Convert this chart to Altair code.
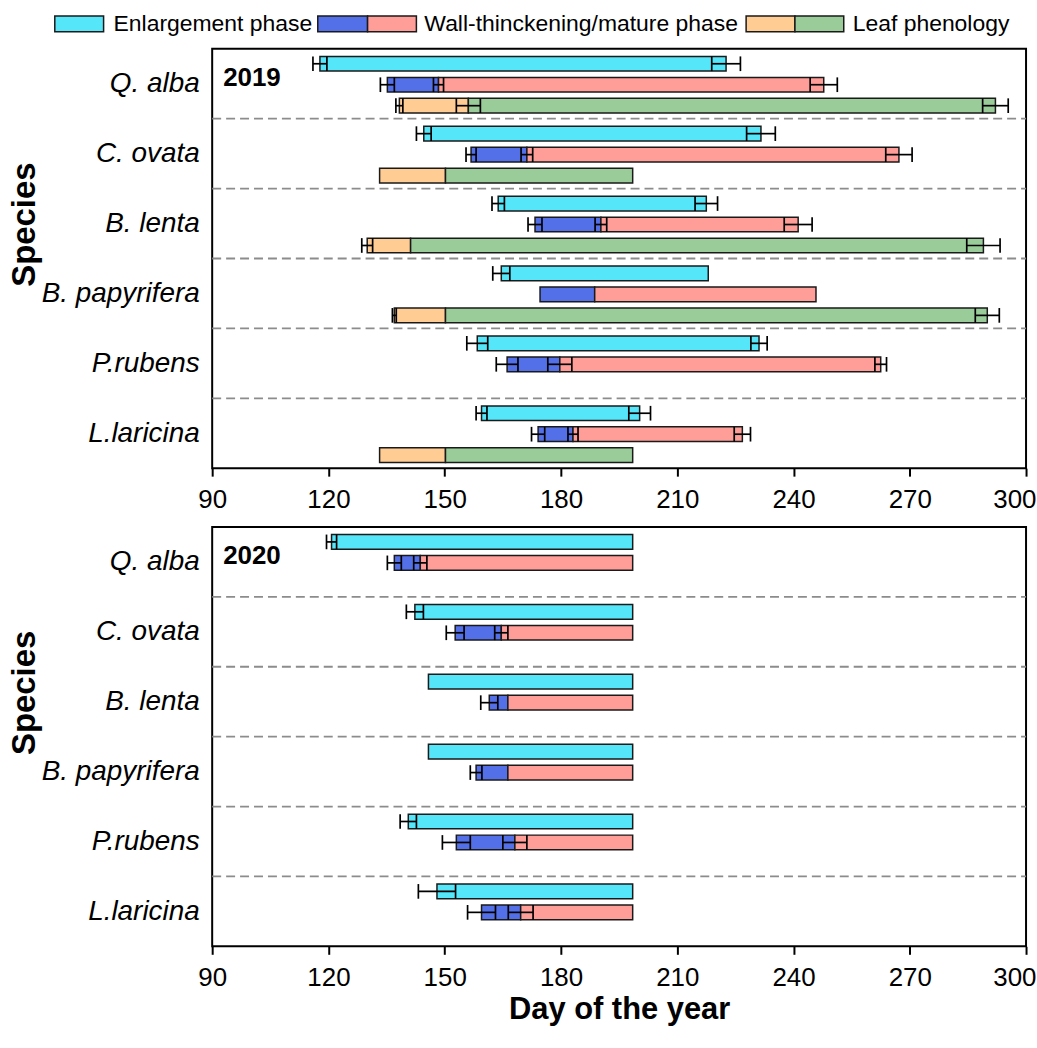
import json
import altair as alt
import pandas as pd

# ---------------- data ----------------
species = ["Q. alba", "C. ovata", "B. lenta", "B. papyrifera", "P.rubens", "L.laricina"]
phases = ["Enlargement", "Wall-thickening", "Mature", "Leaf emergence", "Leaf"]
phase_colors = ["#55E6FA", "#5470E9", "#FF9E99", "#FFCD94", "#99CC99"]
x_ticks = [90, 120, 150, 180, 210, 240, 270, 300]

# 2019 (day of year, and SD in days; 0 = no error bar)
enl19_on = [117.8, 144.6, 163.8, 164.6, 158.4, 159.5]
enl19_on_sd = [1.8, 1.9, 1.6, 2.2, 2.7, 1.4]
enl19_off = [222.6, 231.6, 217.5, 218.0, 231.1, 200.3]
enl19_off_sd = [3.7, 3.7, 2.9, 0.0, 2.1, 2.8]
wt19_on = [135.2, 156.8, 173.3, 174.6, 166.1, 174.1]
wt19_on_sd = [1.8, 1.3, 1.8, 0.0, 2.8, 1.7]
wt19_mid = [148.4, 171.2, 190.3, 188.7, 179.7, 183.1]
wt19_mid_sd = [1.3, 1.5, 1.5, 0.0, 3.1, 1.3]
wt19_off = [247.8, 267.2, 241.2, 245.8, 262.5, 226.8]
wt19_off_sd = [3.5, 3.4, 3.6, 0.0, 1.5, 2.1]
leaf19_on = [138.3, 133.2, 130.0, 137.0, None, 133.2]
leaf19_on_sd = [0.9, 0.0, 1.4, 0.5, 0.0, 0.0]
leaf19_mid = [156.1, 150.2, 141.2, 150.2, None, 150.2]
leaf19_mid_sd = [3.1, 0.0, 0.0, 0.0, 0.0, 0.0]
leaf19_off = [292.1, 198.5, 289.0, 290.0, None, 198.5]
leaf19_off_sd = [3.3, 0.0, 4.3, 3.1, 0.0, 0.0]

# 2020
enl20_on = [120.8, 142.3, 145.8, 145.8, 140.6, 148.0]
enl20_on_sd = [1.3, 2.2, 0.0, 0.0, 2.1, 4.8]
enl20_off = [198.5, 198.5, 198.5, 198.5, 198.5, 198.5]
enl20_off_sd = [0.0, 0.0, 0.0, 0.0, 0.0, 0.0]
wt20_on = [137.0, 152.7, 161.5, 158.1, 153.0, 159.5]
wt20_on_sd = [1.8, 2.3, 2.2, 1.5, 3.6, 3.6]
wt20_mid = [143.7, 164.6, 166.3, 166.3, 168.1, 169.6]
wt20_mid_sd = [1.7, 1.7, 0.0, 0.0, 3.1, 3.2]
wt20_off = [198.5, 198.5, 198.5, 198.5, 198.5, 198.5]
wt20_off_sd = [0.0, 0.0, 0.0, 0.0, 0.0, 0.0]

separators = [1, 2, 3, 4, 5]

# ---------------- build tables ----------------
slot_frac = [0.214, 0.514, 0.814]
half_h = 0.105


def build(rows):
    segs, errs = [], []
    for slot, cols, names in rows:
        for g in range(len(species)):
            pts = [(c[0][g], c[1][g]) for c in cols]
            if pts[0][0] is None:
                continue
            yc = g + slot_frac[slot]
            for k, name in enumerate(names):
                segs.append(dict(yc=yc, y0=yc - half_h, y1=yc + half_h,
                                 x0=pts[k][0], x1=pts[k + 1][0], phase=name))
            for x, sd in pts:
                if sd and sd > 0:
                    errs.append(dict(yc=yc, y0=yc - half_h, y1=yc + half_h,
                                     lo=x - sd, hi=x + sd))
    return pd.DataFrame(segs), pd.DataFrame(errs)


seg19, err19 = build([
    (0, [(enl19_on, enl19_on_sd), (enl19_off, enl19_off_sd)], ["Enlargement"]),
    (1, [(wt19_on, wt19_on_sd), (wt19_mid, wt19_mid_sd), (wt19_off, wt19_off_sd)],
     ["Wall-thickening", "Mature"]),
    (2, [(leaf19_on, leaf19_on_sd), (leaf19_mid, leaf19_mid_sd), (leaf19_off, leaf19_off_sd)],
     ["Leaf emergence", "Leaf"]),
])
seg20, err20 = build([
    (0, [(enl20_on, enl20_on_sd), (enl20_off, enl20_off_sd)], ["Enlargement"]),
    (1, [(wt20_on, wt20_on_sd), (wt20_mid, wt20_mid_sd), (wt20_off, wt20_off_sd)],
     ["Wall-thickening", "Mature"]),
])
sep_df = pd.DataFrame({"y": separators, "xa": 90, "xb": 300})

# ---------------- chart ----------------
FONT = "Liberation Sans"
W, H = 817, 421
xscale = alt.Scale(domain=[90, 300], nice=False, zero=False)
yscale = alt.Scale(domain=[0, 6], reverse=True, nice=False, zero=False)
label_expr = json.dumps(species) + "[floor(datum.value)]"


def yaxis(title_y):
    return alt.Axis(values=[0.5, 1.5, 2.5, 3.5, 4.5, 5.5], labelExpr=label_expr,
                    ticks=False, domain=False, grid=False,
                    labelFontStyle="italic", labelFontSize=28, labelColor="black",
                    labelPadding=13, labelFont=FONT,
                    title="Species", titleFontSize=33, titleFontWeight="bold",
                    titleColor="black", titleFont=FONT, titleAngle=270,
                    titleX=-188, titleY=title_y, titleAlign="center",
                    titleBaseline="middle")


def xaxis(title):
    kw = dict(values=x_ticks, tickSize=8, tickWidth=2, tickColor="black",
              domain=False, grid=False, labelFontSize=26, labelColor="black",
              labelFont=FONT, labelPadding=10, labelFlush=False,
              labelAlign={"condition": {"test": "datum.value === 300", "value": "right"},
                          "value": "center"},
              labelOffset={"condition": {"test": "datum.value === 300", "value": 10},
                           "value": 0})
    if title:
        kw.update(title=title, titleFontSize=31, titleFontWeight="bold",
                  titleColor="black", titleFont=FONT, titleY=63,
                  titleBaseline="middle")
    else:
        kw.update(title=None)
    return alt.Axis(**kw)


color = alt.Color("phase:N", scale=alt.Scale(domain=phases, range=phase_colors), legend=None)


def panel(seg, err, year, xtitle, title_y, with_legend):
    xa = xaxis(xtitle)
    ya = yaxis(title_y)
    sep = alt.Chart(sep_df).mark_rule(color="#8c8c8c", strokeDash=[9, 5], strokeWidth=1.8).encode(
        x=alt.X("xa:Q", scale=xscale, axis=xa), x2="xb:Q",
        y=alt.Y("y:Q", scale=yscale, axis=ya))
    bars = alt.Chart(seg).mark_rect(stroke="#1a1a1a", strokeWidth=1.5).encode(
        x=alt.X("x0:Q", scale=xscale, axis=xa), x2="x1:Q",
        y=alt.Y("y0:Q", scale=yscale, axis=ya), y2="y1:Q", color=color)
    eline = alt.Chart(err).mark_rule(color="black", strokeWidth=1.7).encode(
        x=alt.X("lo:Q", scale=xscale, axis=xa), x2="hi:Q",
        y=alt.Y("yc:Q", scale=yscale, axis=ya))
    cap_lo = alt.Chart(err).mark_rule(color="black", strokeWidth=1.7).encode(
        x=alt.X("lo:Q", scale=xscale, axis=xa),
        y=alt.Y("y0:Q", scale=yscale, axis=ya), y2="y1:Q")
    cap_hi = alt.Chart(err).mark_rule(color="black", strokeWidth=1.7).encode(
        x=alt.X("hi:Q", scale=xscale, axis=xa),
        y=alt.Y("y0:Q", scale=yscale, axis=ya), y2="y1:Q")
    ytxt = alt.Chart(pd.DataFrame({"t": [year]})).mark_text(
        font=FONT, fontSize=26, fontWeight="bold", align="left", baseline="middle",
        color="black").encode(x=alt.value(11), y=alt.value(29), text="t:N")
    layers = [sep, bars, eline, cap_lo, cap_hi, ytxt]
    if with_legend:
        one = pd.DataFrame({"a": [0]})
        # invisible anchor fixing the page origin
        layers.append(alt.Chart(one).mark_rect(opacity=0).encode(
            x=alt.value(-212), x2=alt.value(-206), y=alt.value(-46), y2=alt.value(-40)))
        boxes = [(-158, -109, phase_colors[0]), (106, 156, phase_colors[1]),
                 (156, 205, phase_colors[2]), (536, 585, phase_colors[3]),
                 (585, 634, phase_colors[4])]
        for a, b, c in boxes:
            layers.append(alt.Chart(one).mark_rect(fill=c, stroke="#1a1a1a", strokeWidth=1.5).encode(
                x=alt.value(a), x2=alt.value(b), y=alt.value(-33), y2=alt.value(-17)))
        texts = [(-99, "Enlargement phase"), (213, "Wall-thinckening/mature phase"),
                 (643, "Leaf phenology")]
        for a, t in texts:
            layers.append(alt.Chart(one).mark_text(
                font=FONT, fontSize=23, align="left", baseline="middle", color="black").encode(
                x=alt.value(a), y=alt.value(-25), text=alt.value(t)))
    return alt.layer(*layers).properties(width=W, height=H)


top = panel(seg19, err19, "2019", None, 176, True)
bottom = panel(seg20, err20, "2020", "Day of the year", 166, False)

chart = alt.vconcat(top, bottom, spacing=59, bounds="flush").properties(
    padding=0, background="white"
).configure(font=FONT).configure_view(stroke="black", strokeWidth=2)

chart.save("out.html", embed_options={"renderer": "svg", "actions": False})
